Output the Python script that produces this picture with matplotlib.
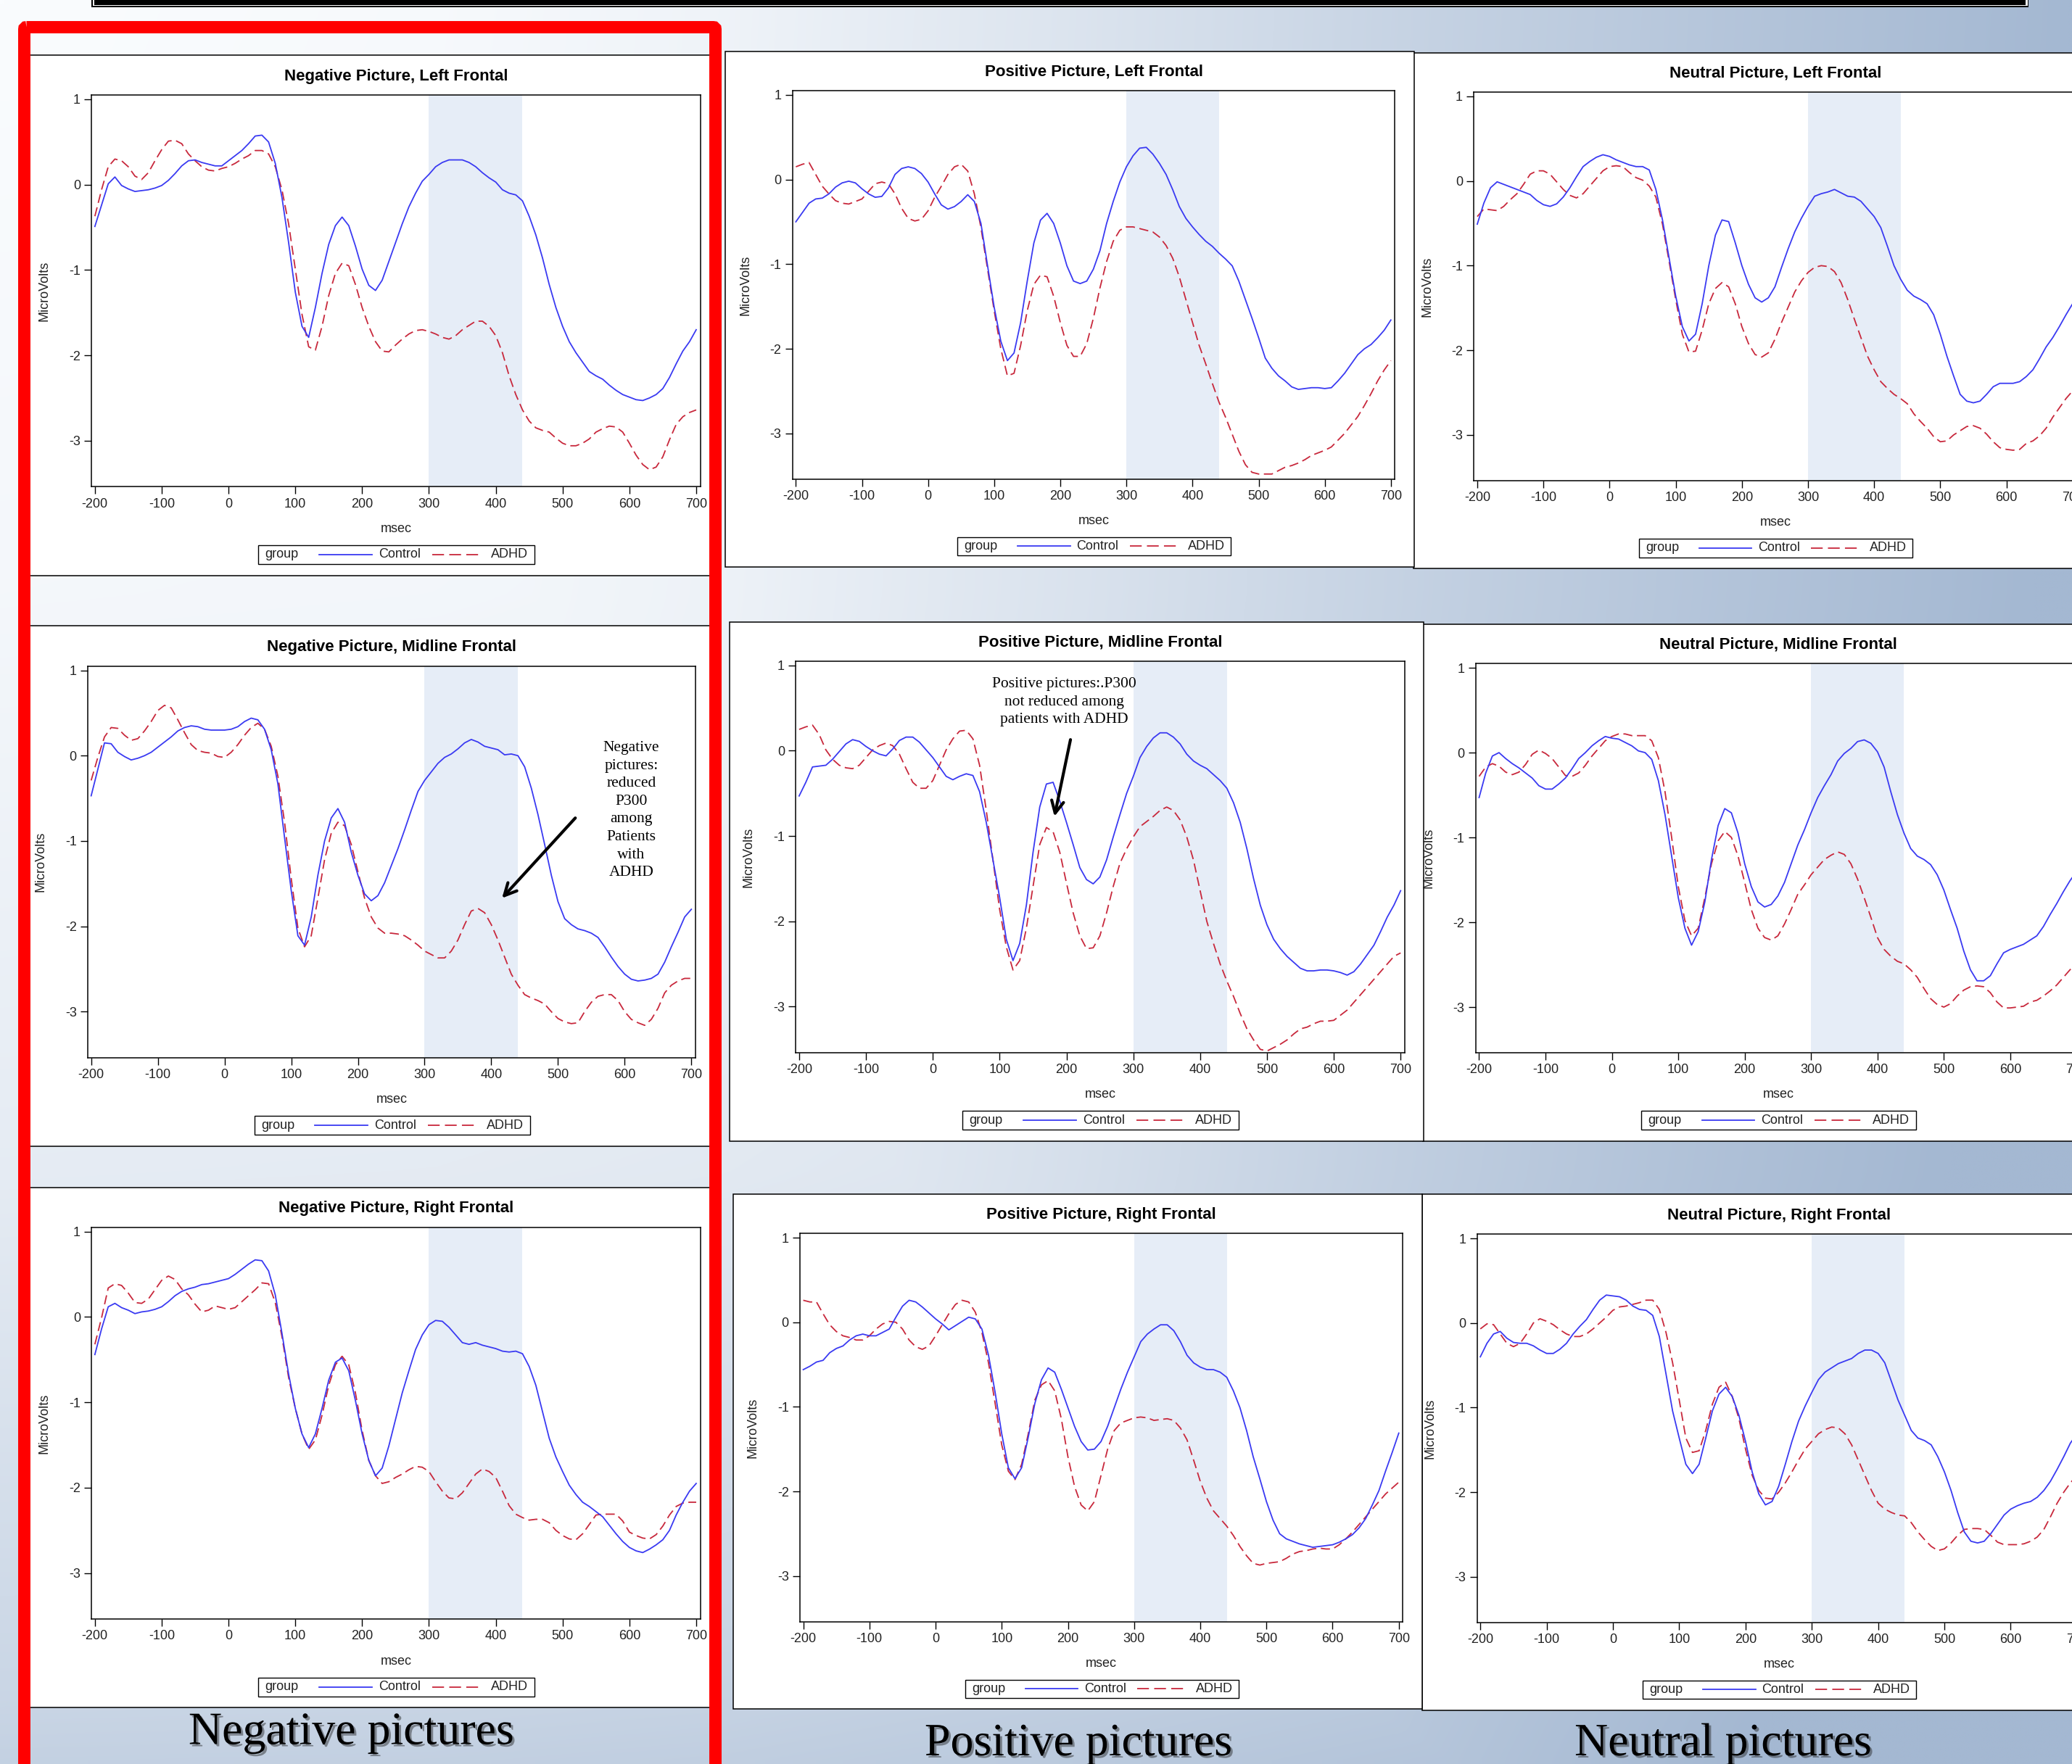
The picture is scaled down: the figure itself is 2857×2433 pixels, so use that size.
import numpy as np
import matplotlib
matplotlib.use("Agg")
import matplotlib.pyplot as plt
from matplotlib.patches import Rectangle, FancyBboxPatch
from matplotlib.lines import Line2D
import matplotlib.patheffects as pe

W, H = 2857, 2433
plt.rcParams["axes.unicode_minus"] = False
plt.rcParams["font.family"] = ["Liberation Sans", "DejaVu Sans"]
SERIF = ["Liberation Serif", "DejaVu Serif"]

# ---------------------------------------------------------------- data
time_ms = np.arange(-200, 701, 10)          # sampling grid, msec
x_ticks = [-200, -100, 0, 100, 200, 300, 400, 500, 600, 700]
y_ticks = [-3, -2, -1, 0, 1]
p300_window = (300, 440)
group_labels = ["Control", "ADHD"]

neg_left_control = [
    -0.49, -0.24, 0.01, 0.09, -0.01, -0.05, -0.08, -0.07, -0.06, -0.04,
    -0.01, 0.05, 0.13, 0.22, 0.28, 0.29, 0.26, 0.24, 0.22, 0.22,
    0.28, 0.34, 0.40, 0.48, 0.57, 0.58, 0.50, 0.25, -0.15, -0.68,
    -1.26, -1.66, -1.79, -1.44, -1.04, -0.70, -0.48, -0.38, -0.48, -0.72,
    -0.99, -1.18, -1.24, -1.12, -0.90, -0.68, -0.46, -0.26, -0.10, 0.04,
    0.12, 0.21, 0.26, 0.29, 0.29, 0.29, 0.26, 0.21, 0.14, 0.08,
    0.03, -0.06, -0.10, -0.12, -0.19, -0.37, -0.59, -0.86, -1.17, -1.44,
    -1.66, -1.84, -1.97, -2.08, -2.19, -2.24, -2.28, -2.35, -2.41, -2.46,
    -2.49, -2.52, -2.53, -2.50, -2.46, -2.39, -2.26, -2.10, -1.95, -1.84, -1.70]
neg_left_adhd = [
    -0.37, -0.06, 0.21, 0.30, 0.28, 0.21, 0.10, 0.06, 0.14, 0.28,
    0.41, 0.51, 0.52, 0.48, 0.36, 0.28, 0.21, 0.17, 0.16, 0.19,
    0.21, 0.25, 0.30, 0.34, 0.40, 0.40, 0.36, 0.21, -0.06, -0.46,
    -0.99, -1.52, -1.90, -1.94, -1.66, -1.30, -1.04, -0.92, -0.95, -1.17,
    -1.44, -1.66, -1.84, -1.95, -1.96, -1.88, -1.81, -1.75, -1.71, -1.70,
    -1.72, -1.75, -1.79, -1.81, -1.77, -1.70, -1.65, -1.60, -1.60, -1.66,
    -1.77, -1.97, -2.24, -2.46, -2.64, -2.77, -2.85, -2.88, -2.90, -2.97,
    -3.03, -3.06, -3.06, -3.03, -2.98, -2.90, -2.86, -2.83, -2.84, -2.90,
    -3.03, -3.17, -3.28, -3.34, -3.31, -3.19, -2.99, -2.81, -2.72, -2.67, -2.64]

pos_left_control = [
    -0.50, -0.39, -0.28, -0.23, -0.22, -0.17, -0.09, -0.04, -0.02, -0.04,
    -0.11, -0.17, -0.21, -0.20, -0.10, 0.06, 0.13, 0.15, 0.13, 0.07,
    -0.03, -0.17, -0.30, -0.35, -0.32, -0.26, -0.18, -0.26, -0.52, -1.02,
    -1.51, -1.91, -2.14, -2.05, -1.69, -1.20, -0.75, -0.48, -0.40, -0.52,
    -0.75, -1.02, -1.20, -1.23, -1.20, -1.06, -0.84, -0.52, -0.26, -0.03,
    0.15, 0.28, 0.37, 0.38, 0.30, 0.19, 0.06, -0.12, -0.32, -0.46,
    -0.56, -0.65, -0.73, -0.79, -0.87, -0.94, -1.02, -1.20, -1.42, -1.64,
    -1.87, -2.11, -2.23, -2.32, -2.38, -2.45, -2.48, -2.47, -2.46, -2.46,
    -2.47, -2.46, -2.38, -2.29, -2.18, -2.07, -2.00, -1.95, -1.87, -1.78, -1.66]
pos_left_adhd = [
    0.15, 0.18, 0.20, 0.06, -0.08, -0.17, -0.25, -0.28, -0.29, -0.26,
    -0.23, -0.14, -0.05, -0.03, -0.05, -0.17, -0.34, -0.46, -0.49, -0.47,
    -0.37, -0.21, -0.08, 0.06, 0.15, 0.18, 0.10, -0.17, -0.57, -1.06,
    -1.55, -2.00, -2.32, -2.29, -1.96, -1.55, -1.24, -1.13, -1.15, -1.38,
    -1.69, -1.96, -2.09, -2.09, -1.94, -1.64, -1.28, -0.97, -0.73, -0.60,
    -0.56, -0.56, -0.58, -0.60, -0.62, -0.68, -0.78, -0.93, -1.15, -1.42,
    -1.69, -1.96, -2.18, -2.41, -2.63, -2.81, -3.01, -3.21, -3.37, -3.46,
    -3.48, -3.48, -3.48, -3.44, -3.40, -3.38, -3.35, -3.31, -3.26, -3.23,
    -3.20, -3.16, -3.08, -3.00, -2.90, -2.80, -2.67, -2.53, -2.38, -2.25, -2.14]

neu_left_control = [
    -0.51, -0.26, -0.08, -0.01, -0.04, -0.07, -0.10, -0.13, -0.16, -0.23,
    -0.28, -0.30, -0.27, -0.19, -0.08, 0.05, 0.17, 0.23, 0.28, 0.31,
    0.29, 0.25, 0.22, 0.19, 0.17, 0.17, 0.13, -0.10, -0.46, -0.91,
    -1.36, -1.72, -1.89, -1.81, -1.45, -1.00, -0.64, -0.46, -0.48, -0.73,
    -1.00, -1.22, -1.38, -1.43, -1.38, -1.25, -1.02, -0.80, -0.60, -0.44,
    -0.30, -0.18, -0.15, -0.13, -0.10, -0.14, -0.18, -0.19, -0.24, -0.33,
    -0.42, -0.55, -0.77, -1.00, -1.16, -1.29, -1.36, -1.40, -1.45, -1.58,
    -1.81, -2.07, -2.30, -2.52, -2.60, -2.62, -2.60, -2.52, -2.43, -2.39,
    -2.39, -2.39, -2.37, -2.31, -2.23, -2.10, -1.96, -1.85, -1.72, -1.58, -1.45]
neu_left_adhd = [
    -0.42, -0.33, -0.34, -0.35, -0.30, -0.22, -0.15, -0.04, 0.08, 0.12,
    0.12, 0.08, -0.01, -0.10, -0.17, -0.20, -0.15, -0.06, 0.03, 0.12,
    0.17, 0.18, 0.17, 0.10, 0.04, 0.01, -0.06, -0.19, -0.51, -0.95,
    -1.40, -1.81, -2.02, -2.01, -1.76, -1.45, -1.27, -1.20, -1.25, -1.45,
    -1.72, -1.92, -2.05, -2.08, -2.03, -1.87, -1.67, -1.49, -1.31, -1.18,
    -1.08, -1.02, -1.00, -1.01, -1.07, -1.20, -1.40, -1.63, -1.85, -2.07,
    -2.23, -2.37, -2.45, -2.52, -2.57, -2.63, -2.75, -2.84, -2.92, -3.02,
    -3.08, -3.07, -3.00, -2.95, -2.90, -2.89, -2.92, -2.99, -3.08, -3.15,
    -3.17, -3.18, -3.17, -3.10, -3.07, -3.01, -2.92, -2.79, -2.68, -2.57, -2.48]

neg_mid_control = [
    -0.47, -0.16, 0.15, 0.14, 0.04, -0.01, -0.05, -0.03, 0.00, 0.04,
    0.10, 0.16, 0.22, 0.29, 0.33, 0.35, 0.34, 0.31, 0.30, 0.30,
    0.30, 0.31, 0.34, 0.40, 0.44, 0.42, 0.31, 0.07, -0.33, -0.96,
    -1.58, -2.11, -2.22, -1.89, -1.40, -1.00, -0.73, -0.62, -0.78, -1.13,
    -1.40, -1.62, -1.70, -1.64, -1.49, -1.29, -1.09, -0.87, -0.64, -0.42,
    -0.29, -0.19, -0.09, -0.02, 0.02, 0.08, 0.15, 0.19, 0.16, 0.11,
    0.09, 0.07, 0.01, 0.02, 0.00, -0.13, -0.38, -0.69, -1.04, -1.40,
    -1.71, -1.91, -1.98, -2.03, -2.05, -2.08, -2.13, -2.24, -2.36, -2.47,
    -2.56, -2.62, -2.64, -2.63, -2.61, -2.56, -2.42, -2.24, -2.07, -1.89, -1.80]
neg_mid_adhd = [
    -0.29, -0.02, 0.22, 0.33, 0.32, 0.24, 0.18, 0.20, 0.29, 0.40,
    0.53, 0.59, 0.56, 0.42, 0.27, 0.13, 0.06, 0.04, 0.03, -0.01,
    -0.02, 0.04, 0.13, 0.24, 0.33, 0.38, 0.31, 0.11, -0.24, -0.78,
    -1.44, -2.02, -2.24, -2.11, -1.67, -1.22, -0.91, -0.78, -0.82, -1.04,
    -1.36, -1.67, -1.89, -2.02, -2.08, -2.08, -2.09, -2.11, -2.16, -2.22,
    -2.29, -2.33, -2.37, -2.37, -2.29, -2.16, -1.98, -1.82, -1.79, -1.84,
    -1.98, -2.16, -2.36, -2.56, -2.69, -2.80, -2.84, -2.87, -2.91, -3.00,
    -3.08, -3.12, -3.14, -3.13, -3.00, -2.89, -2.82, -2.80, -2.80, -2.87,
    -3.00, -3.09, -3.13, -3.16, -3.09, -2.96, -2.78, -2.69, -2.64, -2.61, -2.61]

pos_mid_control = [
    -0.53, -0.37, -0.19, -0.18, -0.17, -0.10, -0.01, 0.08, 0.13, 0.11,
    0.05, 0.00, -0.04, -0.06, 0.02, 0.12, 0.16, 0.16, 0.10, 0.01,
    -0.08, -0.19, -0.30, -0.34, -0.30, -0.27, -0.29, -0.48, -0.84, -1.28,
    -1.72, -2.21, -2.46, -2.26, -1.81, -1.19, -0.66, -0.39, -0.37, -0.59,
    -0.84, -1.10, -1.37, -1.51, -1.56, -1.48, -1.28, -1.01, -0.75, -0.50,
    -0.30, -0.08, 0.05, 0.15, 0.21, 0.21, 0.16, 0.08, -0.04, -0.12,
    -0.17, -0.21, -0.28, -0.35, -0.44, -0.61, -0.84, -1.15, -1.50, -1.81,
    -2.04, -2.21, -2.32, -2.41, -2.48, -2.55, -2.58, -2.58, -2.57, -2.57,
    -2.58, -2.60, -2.63, -2.59, -2.50, -2.39, -2.28, -2.12, -1.95, -1.81, -1.64]
pos_mid_adhd = [
    0.25, 0.28, 0.30, 0.19, 0.01, -0.10, -0.17, -0.20, -0.21, -0.17,
    -0.08, 0.01, 0.06, 0.09, 0.06, -0.04, -0.21, -0.37, -0.44, -0.44,
    -0.35, -0.17, 0.01, 0.14, 0.23, 0.24, 0.14, -0.17, -0.70, -1.28,
    -1.86, -2.30, -2.57, -2.46, -2.08, -1.59, -1.10, -0.90, -0.95, -1.19,
    -1.55, -1.90, -2.17, -2.32, -2.31, -2.17, -1.90, -1.59, -1.32, -1.15,
    -1.01, -0.89, -0.83, -0.77, -0.70, -0.66, -0.70, -0.81, -1.01, -1.28,
    -1.64, -2.00, -2.26, -2.50, -2.70, -2.88, -3.08, -3.26, -3.39, -3.50,
    -3.52, -3.48, -3.44, -3.39, -3.32, -3.26, -3.24, -3.20, -3.17, -3.17,
    -3.16, -3.10, -3.04, -2.95, -2.86, -2.77, -2.68, -2.59, -2.50, -2.41, -2.37]

neu_mid_control = [
    -0.53, -0.24, -0.04, 0.00, -0.07, -0.13, -0.18, -0.24, -0.30, -0.39,
    -0.43, -0.43, -0.37, -0.30, -0.19, -0.07, 0.00, 0.08, 0.14, 0.19,
    0.17, 0.16, 0.12, 0.08, 0.02, 0.00, -0.08, -0.33, -0.73, -1.22,
    -1.71, -2.07, -2.27, -2.11, -1.76, -1.26, -0.86, -0.66, -0.71, -0.95,
    -1.31, -1.58, -1.76, -1.82, -1.79, -1.69, -1.53, -1.31, -1.09, -0.91,
    -0.71, -0.53, -0.39, -0.26, -0.10, -0.01, 0.05, 0.13, 0.15, 0.11,
    0.01, -0.17, -0.46, -0.73, -0.95, -1.13, -1.22, -1.26, -1.32, -1.44,
    -1.62, -1.85, -2.07, -2.34, -2.56, -2.69, -2.69, -2.63, -2.49, -2.36,
    -2.32, -2.29, -2.26, -2.21, -2.16, -2.05, -1.91, -1.78, -1.64, -1.51, -1.40]
neu_mid_adhd = [
    -0.28, -0.17, -0.13, -0.16, -0.23, -0.26, -0.23, -0.14, -0.02, 0.03,
    -0.01, -0.07, -0.17, -0.27, -0.28, -0.24, -0.15, -0.04, 0.05, 0.14,
    0.19, 0.22, 0.22, 0.20, 0.20, 0.20, 0.14, -0.06, -0.46, -1.00,
    -1.58, -1.98, -2.16, -2.07, -1.71, -1.31, -1.04, -0.93, -1.00, -1.22,
    -1.53, -1.85, -2.07, -2.18, -2.21, -2.16, -2.02, -1.85, -1.67, -1.56,
    -1.44, -1.35, -1.26, -1.21, -1.17, -1.20, -1.31, -1.49, -1.71, -1.94,
    -2.18, -2.32, -2.40, -2.46, -2.49, -2.56, -2.65, -2.78, -2.90, -2.97,
    -3.00, -2.96, -2.87, -2.80, -2.76, -2.75, -2.76, -2.83, -2.94, -3.01,
    -3.01, -3.00, -2.99, -2.94, -2.92, -2.87, -2.81, -2.74, -2.65, -2.56, -2.49]

neg_right_control = [
    -0.44, -0.14, 0.12, 0.16, 0.11, 0.08, 0.04, 0.06, 0.07, 0.09,
    0.12, 0.18, 0.25, 0.30, 0.33, 0.35, 0.38, 0.39, 0.41, 0.43,
    0.45, 0.50, 0.56, 0.62, 0.67, 0.66, 0.54, 0.26, -0.19, -0.67,
    -1.07, -1.37, -1.53, -1.37, -1.07, -0.74, -0.53, -0.48, -0.63, -0.98,
    -1.37, -1.68, -1.86, -1.77, -1.51, -1.20, -0.89, -0.63, -0.38, -0.21,
    -0.09, -0.04, -0.05, -0.12, -0.21, -0.30, -0.32, -0.30, -0.33, -0.35,
    -0.37, -0.40, -0.41, -0.40, -0.43, -0.58, -0.80, -1.11, -1.42, -1.64,
    -1.81, -1.97, -2.08, -2.17, -2.22, -2.28, -2.34, -2.44, -2.54, -2.63,
    -2.70, -2.74, -2.76, -2.72, -2.67, -2.61, -2.50, -2.32, -2.17, -2.04, -1.95]
neg_right_adhd = [
    -0.32, -0.01, 0.34, 0.39, 0.37, 0.28, 0.17, 0.16, 0.21, 0.32,
    0.43, 0.48, 0.44, 0.33, 0.26, 0.15, 0.06, 0.08, 0.13, 0.11,
    0.09, 0.11, 0.18, 0.25, 0.32, 0.40, 0.39, 0.17, -0.23, -0.71,
    -1.07, -1.37, -1.55, -1.44, -1.15, -0.80, -0.56, -0.46, -0.56, -0.89,
    -1.33, -1.68, -1.86, -1.95, -1.93, -1.88, -1.84, -1.79, -1.75, -1.76,
    -1.81, -1.93, -2.04, -2.12, -2.13, -2.06, -1.95, -1.84, -1.78, -1.81,
    -1.88, -2.04, -2.21, -2.31, -2.35, -2.38, -2.37, -2.37, -2.41, -2.50,
    -2.56, -2.60, -2.61, -2.54, -2.43, -2.32, -2.31, -2.31, -2.31, -2.39,
    -2.52, -2.56, -2.59, -2.60, -2.55, -2.45, -2.32, -2.22, -2.18, -2.17, -2.17]

pos_right_control = [
    -0.56, -0.52, -0.47, -0.45, -0.36, -0.31, -0.28, -0.21, -0.16, -0.14,
    -0.16, -0.16, -0.12, -0.08, 0.06, 0.19, 0.26, 0.24, 0.18, 0.11,
    0.04, -0.02, -0.09, -0.04, 0.01, 0.06, 0.04, -0.08, -0.39, -0.83,
    -1.32, -1.72, -1.85, -1.72, -1.36, -0.96, -0.68, -0.54, -0.59, -0.79,
    -1.01, -1.23, -1.41, -1.51, -1.50, -1.41, -1.23, -1.01, -0.79, -0.59,
    -0.41, -0.23, -0.14, -0.08, -0.03, -0.03, -0.10, -0.23, -0.39, -0.48,
    -0.53, -0.56, -0.56, -0.59, -0.65, -0.81, -1.01, -1.28, -1.59, -1.85,
    -2.12, -2.34, -2.50, -2.56, -2.59, -2.62, -2.64, -2.66, -2.65, -2.64,
    -2.63, -2.60, -2.56, -2.51, -2.43, -2.32, -2.16, -1.99, -1.76, -1.54, -1.31]
pos_right_adhd = [
    0.26, 0.24, 0.24, 0.10, -0.03, -0.11, -0.16, -0.18, -0.21, -0.21,
    -0.16, -0.08, -0.02, 0.01, 0.00, -0.08, -0.21, -0.29, -0.32, -0.28,
    -0.16, -0.03, 0.10, 0.21, 0.26, 0.24, 0.12, -0.12, -0.48, -0.96,
    -1.45, -1.76, -1.86, -1.68, -1.32, -0.92, -0.74, -0.69, -0.81, -1.14,
    -1.59, -1.94, -2.16, -2.23, -2.12, -1.81, -1.50, -1.28, -1.19, -1.16,
    -1.13, -1.12, -1.13, -1.16, -1.15, -1.14, -1.16, -1.25, -1.39, -1.63,
    -1.88, -2.08, -2.23, -2.32, -2.41, -2.52, -2.65, -2.76, -2.85, -2.87,
    -2.85, -2.84, -2.83, -2.79, -2.74, -2.71, -2.70, -2.68, -2.67, -2.68,
    -2.68, -2.63, -2.56, -2.48, -2.39, -2.30, -2.21, -2.12, -2.03, -1.96, -1.89]

neu_right_control = [
    -0.40, -0.24, -0.13, -0.10, -0.18, -0.23, -0.24, -0.24, -0.27, -0.32,
    -0.36, -0.36, -0.31, -0.24, -0.13, -0.04, 0.04, 0.16, 0.27, 0.33,
    0.32, 0.31, 0.27, 0.20, 0.16, 0.15, 0.09, -0.16, -0.60, -1.04,
    -1.36, -1.67, -1.78, -1.67, -1.36, -1.04, -0.84, -0.76, -0.87, -1.09,
    -1.40, -1.76, -2.02, -2.15, -2.11, -1.93, -1.67, -1.40, -1.16, -0.98,
    -0.82, -0.67, -0.58, -0.53, -0.48, -0.45, -0.42, -0.36, -0.32, -0.32,
    -0.36, -0.47, -0.69, -0.91, -1.09, -1.27, -1.36, -1.39, -1.44, -1.58,
    -1.76, -1.98, -2.24, -2.47, -2.58, -2.60, -2.58, -2.49, -2.38, -2.27,
    -2.20, -2.16, -2.13, -2.11, -2.06, -1.98, -1.87, -1.73, -1.58, -1.42, -1.31]
neu_right_adhd = [
    -0.07, -0.01, -0.02, -0.13, -0.24, -0.28, -0.24, -0.13, 0.00, 0.05,
    0.02, -0.02, -0.08, -0.13, -0.16, -0.16, -0.13, -0.07, 0.00, 0.07,
    0.15, 0.19, 0.20, 0.22, 0.24, 0.27, 0.27, 0.16, -0.11, -0.47,
    -0.91, -1.36, -1.53, -1.51, -1.27, -0.96, -0.76, -0.70, -0.87, -1.13,
    -1.49, -1.80, -1.98, -2.07, -2.08, -2.00, -1.89, -1.76, -1.62, -1.49,
    -1.40, -1.31, -1.26, -1.23, -1.24, -1.31, -1.44, -1.62, -1.80, -1.98,
    -2.13, -2.20, -2.24, -2.27, -2.28, -2.36, -2.47, -2.56, -2.64, -2.69,
    -2.67, -2.60, -2.51, -2.44, -2.43, -2.43, -2.44, -2.51, -2.59, -2.62,
    -2.62, -2.62, -2.61, -2.58, -2.53, -2.44, -2.29, -2.13, -2.00, -1.89, -1.80]

# ---------------------------------------------------------------- style
CONTROL_COLOR = "#3A3AF2"
ADHD_COLOR = "#C8283C"
BAND_COLOR = "#E6EDF7"
TEXT_COLOR = "#222222"
ADHD_DASH = (0, (7, 3.5))

fig = plt.figure(figsize=(W / 100, H / 100), dpi=100)

# full-size canvas in pixel units (y grows downward)
bg = fig.add_axes([0, 0, 1, 1], zorder=0)
bg.set_xlim(0, W)
bg.set_ylim(H, 0)
bg.axis("off")

# slide background: white at the top left, steel blue towards the right/bottom
gx = np.linspace(0, W, 300)
gy = np.linspace(0, H, 260)
tx = np.interp(gx, [0, 600, 1000, 1500, 1980, 2400, 2857],
               [0.0, 0.04, 0.13, 0.36, 0.62, 0.81, 1.0])
ty = np.interp(gy, [0, 820, 1620, 2340, 2433], [0.0, 0.07, 0.24, 0.56, 0.63])
TX, TY = np.meshgrid(tx, ty)
T = np.clip(np.maximum(TX, TY) + 0.3 * np.minimum(TX, TY), 0, 1)
light = np.array([250, 252, 254]) / 255.0
dark = np.array([164, 184, 210]) / 255.0
bg.imshow(light + T[..., None] * (dark - light), extent=(0, W, H, 0),
          aspect="auto", interpolation="bilinear", zorder=0)

# framed title strip along the top edge
bg.add_patch(Rectangle((126, -10), 2797 - 126, 19.5, fc="black", ec="none", zorder=1))
bg.add_patch(Rectangle((127.5, -10), 2795.5 - 127.5, 18.0, fc="white", ec="none", zorder=1))
bg.add_patch(Rectangle((130, -10), 2793 - 130, 16.8, fc="black", ec="none", zorder=1))

# white plot panels (x0, y0, x1, y1 in pixels)
panel_frames = [
    (1949, 73.2, 2875, 784.5), (1962, 860.8, 2875, 1574), (1960.5, 1647, 2875, 2359),
    (1000.4, 70.6, 1949.6, 782), (1005.5, 857.7, 1962.5, 1574), (1010.6, 1647, 1960.6, 2357),
    (30, 76, 990, 794), (30, 863.4, 990, 1581), (30, 1638, 990, 2355),
]
for x0, y0, x1, y1 in panel_frames:
    bg.add_patch(Rectangle((x0, y0), x1 - x0, y1 - y0, fc="white", ec="black",
                           lw=1.1, zorder=2))

# red highlight around the negative-picture column
bg.add_patch(FancyBboxPatch((33.5, 37.5), 953, 2500,
                            boxstyle="round,pad=0,rounding_size=3",
                            fc="none", ec="#FF0000", lw=12.2, zorder=4))

# column captions
shadow = [pe.SimplePatchShadow(offset=(2.2, -2.2), shadow_rgbFace="#202020", alpha=0.45),
          pe.Normal()]
for cx, base, label in [(484.5, 2405.5, "Negative pictures"),
                        (1487, 2421, "Positive pictures"),
                        (2376, 2421, "Neutral pictures")]:
    bg.text(cx, base, label, ha="center", va="baseline", fontsize=46,
            family=SERIF, color="black", zorder=6, path_effects=shadow)


def draw_legend(ax):
    y_top, y_bot = -0.149, -0.197
    ym = (y_top + y_bot) / 2
    ax.add_patch(Rectangle((0.274, y_bot), 0.7275 - 0.274, y_top - y_bot,
                           transform=ax.transAxes, fc="white", ec="black",
                           lw=1.0, clip_on=False))
    kw = dict(transform=ax.transAxes, ha="left", va="center", fontsize=13,
              color=TEXT_COLOR, clip_on=False)
    ax.text(0.285, ym, "group", **kw)
    ax.add_line(Line2D([0.374, 0.461], [ym, ym], transform=ax.transAxes,
                       color=CONTROL_COLOR, lw=1.3, clip_on=False))
    ax.text(0.4716, ym, group_labels[0], **kw)
    ax.add_line(Line2D([0.5597, 0.6395], [ym, ym], transform=ax.transAxes,
                       color=ADHD_COLOR, lw=1.3, ls=(0, (9, 4)), clip_on=False))
    ax.text(0.6563, ym, group_labels[1], **kw)


def draw_panel(box, title, control, adhd):
    left, top, right, bottom = box
    ax = fig.add_axes([left / W, 1 - bottom / H, (right - left) / W, (bottom - top) / H],
                      zorder=3)
    ax.set_facecolor("white")
    ax.set_xlim(-205, 706)
    ax.set_ylim(-3.54, 1.05)
    ax.axvspan(*p300_window, color=BAND_COLOR, lw=0, zorder=0)
    ax.plot(time_ms, adhd, color=ADHD_COLOR, lw=1.3, ls=ADHD_DASH, zorder=2)
    ax.plot(time_ms, control, color=CONTROL_COLOR, lw=1.3, zorder=3)
    ax.set_xticks(x_ticks)
    ax.set_yticks(y_ticks)
    ax.tick_params(direction="out", length=7, width=1.0, pad=4, labelsize=13,
                   colors="black", labelcolor=TEXT_COLOR, top=False, right=False)
    for s in ax.spines.values():
        s.set_linewidth(1.1)
        s.set_color("black")
    ax.set_xlabel("msec", fontsize=13, color=TEXT_COLOR)
    ax.xaxis.label.set_va("center")
    ax.xaxis.set_label_coords(0.5, -0.107)
    ax.set_ylabel("MicroVolts", fontsize=13, color=TEXT_COLOR)
    ax.yaxis.label.set_va("center")
    ax.yaxis.set_label_coords(-0.078, 0.5)
    ax.text(0.5, 1.048, title, transform=ax.transAxes, ha="center", va="center",
            fontsize=16, fontweight="bold", color="black")
    draw_legend(ax)
    return ax


# axes boxes: left, top, right, bottom (pixels)
panels = [
    ((126.2, 131.1, 965.5, 671.3), "Negative Picture, Left Frontal", neg_left_control, neg_left_adhd),
    ((1092.8, 125.0, 1923.3, 660.8), "Positive Picture, Left Frontal", pos_left_control, pos_left_adhd),
    ((2032.4, 127.0, 2863.3, 663.0), "Neutral Picture, Left Frontal", neu_left_control, neu_left_adhd),
    ((121.1, 918.7, 958.8, 1458.9), "Negative Picture, Midline Frontal", neg_mid_control, neg_mid_adhd),
    ((1097.3, 911.9, 1936.8, 1452.0), "Positive Picture, Midline Frontal", pos_mid_control, pos_mid_adhd),
    ((2034.9, 915.2, 2868.9, 1452.2), "Neutral Picture, Midline Frontal", neu_mid_control, neu_mid_adhd),
    ((126.2, 1692.9, 965.5, 2233.2), "Negative Picture, Right Frontal", neg_right_control, neg_right_adhd),
    ((1103.0, 1701.2, 1934.2, 2236.8), "Positive Picture, Right Frontal", pos_right_control, pos_right_adhd),
    ((2036.6, 1702.2, 2869.4, 2237.8), "Neutral Picture, Right Frontal", neu_right_control, neu_right_adhd),
]
axes = [draw_panel(*p) for p in panels]

arrow = dict(arrowstyle="->", lw=3, color="black", mutation_scale=30,
             shrinkA=0, shrinkB=0)

ax_neg_mid = axes[3]
ax_neg_mid.text(610, -0.64,
                "Negative\npictures:\nreduced\nP300\namong\nPatients\nwith\nADHD",
                ha="center", va="center", fontsize=15.5, family=SERIF,
                linespacing=1.4, color="black", zorder=5)
ax_neg_mid.annotate("", xy=(416, -1.67), xytext=(526, -0.73), arrowprops=arrow, zorder=5)

ax_pos_mid = axes[4]
ax_pos_mid.text(197, 0.57,
                "Positive pictures:.P300\nnot reduced among\npatients with ADHD",
                ha="center", va="center", fontsize=15.5, family=SERIF,
                linespacing=1.4, color="black", zorder=5)
ax_pos_mid.annotate("", xy=(182, -0.77), xytext=(206, 0.13), arrowprops=arrow, zorder=5)

fig.savefig("out.png", dpi=100)
